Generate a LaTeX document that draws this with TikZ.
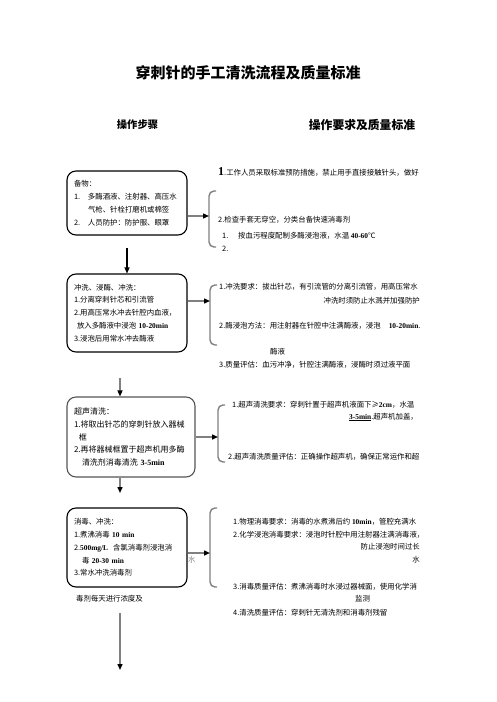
\documentclass[tikz,border=0pt]{standalone}
\usepackage{fontspec}
\setmainfont{Noto Sans CJK SC}
\newfontfamily\enfont{Liberation Serif}
\usepackage{xcolor}
\usepackage{tikz}
\usetikzlibrary{positioning, arrows.meta}
\definecolor{muted}{HTML}{808080}
\definecolor{boxgray}{HTML}{555555}
\newcommand{\enb}[1]{{\enfont\bfseries #1}}
\newcommand{\numtab}[1]{\makebox[14pt][l]{#1}}

\begin{document}
\begin{tikzpicture}[x=1pt, y=-1pt, stepbox/.style={draw, rounded corners=9pt, line width=1.1pt, minimum width=120pt, text width=106pt, inner xsep=7pt, inner ysep=0pt, align=left, font=\fontsize{7.4}{12.8}\selectfont},rtxt/.style={font=\fontsize{7.4}{9}\selectfont, inner sep=0pt, anchor=west},rtxtr/.style={rtxt, anchor=east},arr/.style={-{Triangle[length=6pt, width=5pt, color=black]}, line width=1.4pt, color=muted},bracket/.style={line width=1.4pt, color=muted, rounded corners=5pt},headlbl/.style={inner sep=0pt, font=\bfseries}]
\useasboundingbox (0,0) rectangle (496,702);
% title and column heads
\node[headlbl, font=\fontsize{15}{18}\selectfont\bfseries] (title) at (248,73) {穿刺针的手工清洗流程及质量标准};
\node[headlbl, font=\fontsize{10.3}{12}\selectfont\bfseries] (headL) at (137.5,125) {操作步骤};
\node[headlbl, font=\fontsize{11.8}{14}\selectfont\bfseries] (headR) at (362,125) {操作要求及质量标准};
% step boxes
\node[stepbox, minimum height=64pt] (prep) at (127,203) {备物：\\\numtab{1.}多酶酒液、注射器、高压水\\\hspace*{14pt}气枪、针栓打磨机或棉签\\\numtab{2.}人员防护：防护服、眼罩};
\node[stepbox, minimum height=78pt] (rinse) at (127,313) {冲洗、浸酶、冲洗：\\1.分离穿刺针芯和引流管\\2.用高压常水冲去针腔内血液，\\\hspace*{3pt}放入多酶液中浸泡 \enb{10-20min}\\3.浸泡后用常水冲去酶液};
\node[stepbox, draw=boxgray, minimum width=128pt, text width=114pt, minimum height=80pt, font=\fontsize{8}{12.8}\selectfont] (sonic) at (131,437) {超声清洗：\\1.将取出针芯的穿刺针放入器械\\\hspace*{5pt}框\\2.再将器械框置于超声机用多酶\\\hspace*{8pt}清洗剂消毒清洗 \enb{3-5min}};
\node[stepbox, minimum height=79pt] (disinf) at (127,547.5) {消毒、冲洗：\\1.煮沸消毒 \enb{10 min}\\2.\enb{500mg/L}\ \ 含氯消毒剂浸泡消\\\hspace*{8pt}毒 \enb{20-30 min}\\3.常水冲洗消毒剂};
\node[rtxt, color=muted] (stray) at (188,560) {水};
\node[rtxt] (disinfB) at (76,599) {毒剂每天进行浓度及};
% brackets
\foreach \bx/\bt/\bb in {209/191/247, 210/285/345, 218/405/462, 210/508/587}
  \draw[bracket] (\bx+7,\bt) -- (\bx,\bt) -- (\bx,\bb) -- (\bx+7,\bb);
\coordinate (br1) at (209,216);
\coordinate (br2) at (210,301);
\coordinate (br3) at (218,437);
\coordinate (br4) at (210,553);
% requirement texts
\node[rtxt] (r11) at (218,172) {{\enfont\bfseries\fontsize{12}{12}\selectfont 1}.工作人员采取标准预防措施，禁止用手直接接触针头，做好};
\node[rtxt] (r12) at (218,220) {2.检查手套无穿空，分类台备快速消毒剂};
\node[rtxt] (r13) at (222,236) {\makebox[16pt][l]{1.}按血污程度配制多酶浸泡液，水温 \enb{40-60}℃};
\node[rtxt] (r14) at (222,249) {2.};
\node[rtxt] (r21) at (219,287) {1.冲洗要求：拔出针芯，有引流管的分离引流管，用高压常水};
\node[rtxtr] (r22) at (420,301) {冲洗时须防止水溅并加强防护};
\node[rtxt] (r23) at (219,326) {2.酶浸泡方法：用注射器在针腔中注满酶液，浸泡\hspace{8pt}\enb{10-20min}.};
\node[rtxt] (r24) at (270,352) {酶液};
\node[rtxt] (r25) at (219,365) {3.质量评估：血污冲净，针腔注满酶液，浸酶时须过液平面};
\node[rtxt] (r31) at (232,405) {1.超声清洗要求：穿刺针置于超声机液面下≥\enb{2cm}，水温};
\node[rtxtr] (r32) at (418,417) {\underline{\enb{3-5min}}.超声机加盖，};
\node[rtxt] (r33) at (228,457) {2.超声清洗质量评估：正确操作超声机，确保正常运作和超};
\node[rtxt] (r41) at (233,522) {1.物理消毒要求：消毒的水煮沸后约 \enb{10min}，管腔充满水};
\node[rtxt] (r42) at (233,535) {2.化学浸泡消毒要求：浸泡时针腔中用注射器注满消毒液，};
\node[rtxtr] (r43) at (420,547) {防止浸泡时间过长};
\node[rtxtr] (r44) at (420,560) {水};
\node[rtxt] (r45) at (233,587) {3.消毒质量评估：煮沸消毒时水浸过器械面，使用化学消};
\node[rtxt] (r46) at (355,599) {监测};
\node[rtxt] (r47) at (233,613) {4.清洗质量评估：穿刺针无清洗剂和消毒剂残留};
% connectors
\draw[arr] (prep.east |- br1) -- (br1);
\draw[arr] (rinse.east |- br2) -- (br2);
\draw[arr] (sonic.east |- br3) -- (br3);
\draw[arr] (disinf.east |- br4) -- (br4);
\coordinate (v1) at (127,248);
\coordinate (v2) at (120,378);
\coordinate (v3) at (120,493);
\coordinate (v4s) at (120,613);
\coordinate (v4e) at (120,670);
\draw[arr, color=black, line width=1.1pt] (v1) -- (rinse.north);
\draw[arr] (v2) -- (v2 |- sonic.north);
\draw[arr] (v3 |- sonic.south) -- (v3);
\draw[arr] (v4s) -- (v4e);
\end{tikzpicture}
\end{document}
